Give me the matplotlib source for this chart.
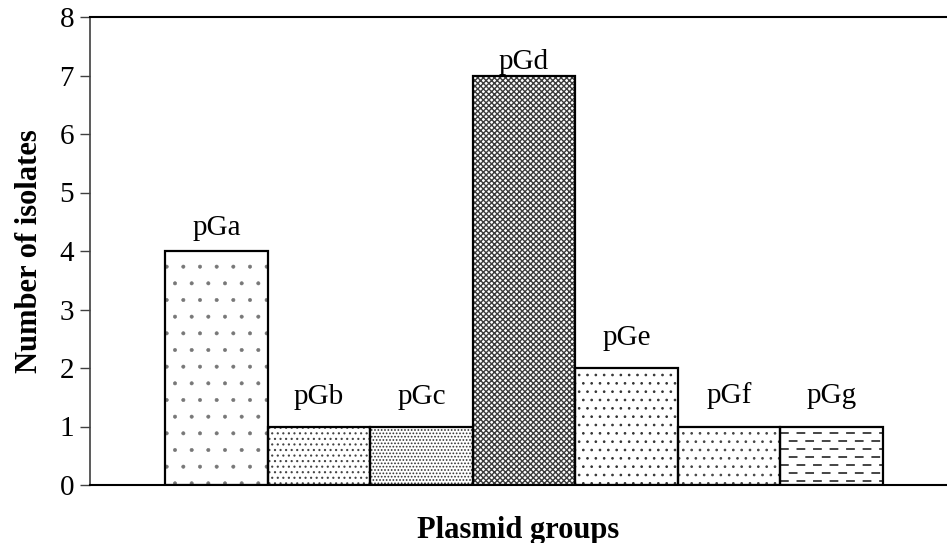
import numpy as np
import matplotlib
matplotlib.use("Agg")
import matplotlib.pyplot as plt

# data
groups = ["pGa", "pGb", "pGc", "pGd", "pGe", "pGf", "pGg"]
isolates = [4, 1, 1, 7, 2, 1, 1]

# fill pattern per group (pGg gets drawn dashes instead of a hatch)
hatches = [".", "...", ".....", "xxxxxx", "..", "..", None]
hatch_colors = ["#777777", "#444444", "#333333", "#3c3c3c", "#333333", "#444444", "#444444"]
hatch_widths = [0.4, 0.8, 0.8, 1.0, 0.7, 0.7, 1.0]
label_pad = [11.5, 16.5, 16.5, 4.5, 16.5, 17.0, 17.0]  # points above bar top, to baseline

plt.rcParams["font.family"] = ["Liberation Serif", "DejaVu Serif"]
plt.rcParams["hatch.linewidth"] = 0.8

fig = plt.figure(figsize=(9.47, 5.43), dpi=100)
ax = fig.add_axes([90 / 947, 58 / 543, 1 - 90 / 947, (485 - 17) / 543])

x = np.arange(len(groups))

# hatched fill layer, then black outlines on top
for xi, val, h, hc, hw in zip(x, isolates, hatches, hatch_colors, hatch_widths):
    b = ax.bar(xi, val, width=1.0, color="white", edgecolor=hc, linewidth=0,
               hatch=h, zorder=2)[0]
    if hasattr(b, "set_hatch_linewidth"):
        b.set_hatch_linewidth(hw)

# dashed fill for the last group, clipped to its bar
last = ax.bar(x[-1], isolates[-1], width=1.0, fill=False, linewidth=0, zorder=2)[0]
rows = np.arange(0.06, isolates[-1], 0.137)
for k, yy in enumerate(rows):
    offset = 0 if k % 2 == 0 else 4.0
    ln, = ax.plot([x[-1] - 0.5, x[-1] + 0.5], [yy, yy], color="#444444",
                  linewidth=1.4, linestyle=(offset, (4.5, 4.0)), zorder=2.5)
    ln.set_clip_path(last)

ax.bar(x, isolates, width=1.0, fill=False, edgecolor="black", linewidth=1.6, zorder=3)

for xi, val, name, pad in zip(x, isolates, groups, label_pad):
    ax.annotate(name, (xi, val), xytext=(0, pad), textcoords="offset points",
                ha="center", va="baseline", fontsize=21)

ax.set_xlim(-1.234, 7.127)
ax.set_ylim(0, 8)
ax.set_yticks(range(0, 9))
ax.set_xticks([])

ax.spines["right"].set_visible(False)
ax.spines["left"].set_color("#404040")
ax.spines["left"].set_linewidth(1.2)
ax.spines["bottom"].set_linewidth(1.5)
ax.spines["top"].set_linewidth(1.5)
ax.tick_params(axis="y", direction="out", length=7.5, width=1.0, color="#404040",
               labelsize=21, pad=4)

ax.set_ylabel("Number of isolates", fontsize=22, fontweight="bold", labelpad=11)
ax.set_xlabel("Plasmid groups", fontsize=22, fontweight="bold", labelpad=22)

fig.savefig("out.png", dpi=100)
